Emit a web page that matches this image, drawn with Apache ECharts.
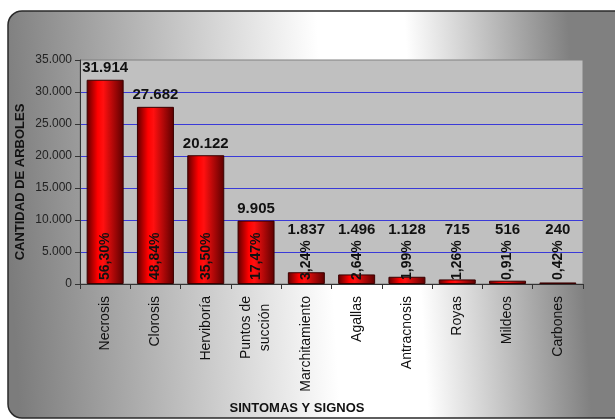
<!DOCTYPE html>
<html>
<head>
<meta charset="utf-8">
<script src="https://cdn.jsdelivr.net/npm/echarts@6/dist/echarts.min.js"></script>
<style>
  html, body { margin: 0; padding: 0; background: #fff; }
  #chart { width: 615px; height: 420px; }
</style>
</head>
<body>
<div id="chart"></div>
<script>
// Datos
const categorias = ['Necrosis', 'Clorosis', 'Hervibor\u00eda', 'Puntos de\nsucci\u00f3n', 'Marchitamiento',
  'Agallas', 'Antracnosis', 'Royas', 'Mildeos', 'Carbones']
const arboles = [31914, 27682, 20122, 9905, 1837, 1496, 1128, 715, 516, 240]
const porcentajes = [56.30, 48.84, 35.50, 17.47, 3.24, 2.64, 1.99, 1.26, 0.91, 0.42]

// altura minima para la etiqueta de valor (queda encima del porcentaje)
const minEtiqueta = 6600
const anclaEtiqueta = arboles.map(v => Math.max(v, minEtiqueta))

const fmtMiles = (n) => String(n).replace(/\B(?=(\d{3})+(?!\d))/g, '.')
const fmtPct = (p) => p.toFixed(2).replace('.', ',') + '%'

const font = 'Liberation Sans, Arial, sans-serif'
const chart = echarts.init(document.getElementById('chart'))

const barGradient = new echarts.graphic.LinearGradient(0, 0, 1, 0, [
  { offset: 0, color: '#5c0000' },
  { offset: 0.3, color: '#ff0000' },
  { offset: 0.45, color: '#ff1010' },
  { offset: 1, color: '#5a0000' }
])

chart.setOption({
  animation: false,
  backgroundColor: '#fff',
  textStyle: { fontFamily: font },
  graphic: [
    {
      type: 'rect',
      z: -10,
      shape: { x: 8, y: 11, width: 630, height: 407, r: 14 },
      style: {
        fill: new echarts.graphic.LinearGradient(8, 225, 590, 190, [
          { offset: 0, color: '#7c7c7c' },
          { offset: 0.55, color: '#ffffff' },
          { offset: 0.7, color: '#ffffff' },
          { offset: 0.98, color: '#808080' },
          { offset: 1, color: '#808080' }
        ], true),
        stroke: '#2a2a2a',
        lineWidth: 1.5
      }
    },
    {
      type: 'text',
      x: 20, y: 182, rotation: Math.PI / 2,
      style: {
        text: 'CANTIDAD DE ARBOLES', fill: '#111',
        font: 'bold 13px ' + font, align: 'center', verticalAlign: 'middle'
      }
    },
    {
      type: 'text',
      x: 297, y: 408,
      style: {
        text: 'SINTOMAS Y SIGNOS', fill: '#111',
        font: 'bold 13px ' + font, align: 'center', verticalAlign: 'middle'
      }
    }
  ],
  grid: {
    left: 80, right: 32, top: 60, bottom: 136,
    show: true, backgroundColor: '#c0c0c0', borderColor: '#808080', borderWidth: 1
  },
  xAxis: {
    type: 'category',
    data: categorias,
    axisLine: { lineStyle: { color: '#333', width: 1 } },
    axisTick: { show: true, length: 5, lineStyle: { color: '#333' } },
    axisLabel: {
      interval: 0, rotate: 90, margin: 12,
      fontSize: 14, color: '#111', lineHeight: 19,
      formatter: (v) => v.split('\n').map(s => '{c|' + s + '}').join('\n'),
      rich: { c: { fontSize: 14, color: '#111', align: 'center', lineHeight: 19 } }
    }
  },
  yAxis: {
    type: 'value',
    min: 0, max: 35000, interval: 5000,
    axisLine: { show: true, lineStyle: { color: '#333', width: 1 } },
    axisTick: { show: true, length: 5, lineStyle: { color: '#333' } },
    axisLabel: { fontSize: 12, color: '#222', margin: 8, formatter: fmtMiles },
    splitLine: {
      showMaxLine: false,
      lineStyle: { color: '#3a3ad8', width: 1 }
    }
  },
  series: [
    {
      name: 'Etiquetas',
      type: 'bar',
      data: anclaEtiqueta,
      barWidth: 37,
      silent: true,
      itemStyle: { color: 'rgba(0,0,0,0)' },
      label: {
        show: true, position: 'top', distance: 4,
        fontSize: 15, fontWeight: 'bold', color: '#111',
        formatter: (p) => fmtMiles(arboles[p.dataIndex])
      },
      z: 1
    },
    {
      name: 'Cantidad de árboles',
      type: 'bar',
      data: arboles,
      barWidth: 37,
      barGap: '-100%',
      itemStyle: { color: barGradient, borderColor: '#3a0000', borderWidth: 1 },
      label: {
        show: true, position: 'insideBottom', rotate: 90,
        align: 'left', verticalAlign: 'middle', distance: 4,
        fontSize: 14, fontWeight: 'bold', color: '#111',
        formatter: (p) => fmtPct(porcentajes[p.dataIndex])
      },
      z: 3
    }
  ]
})
</script>
</body>
</html>
